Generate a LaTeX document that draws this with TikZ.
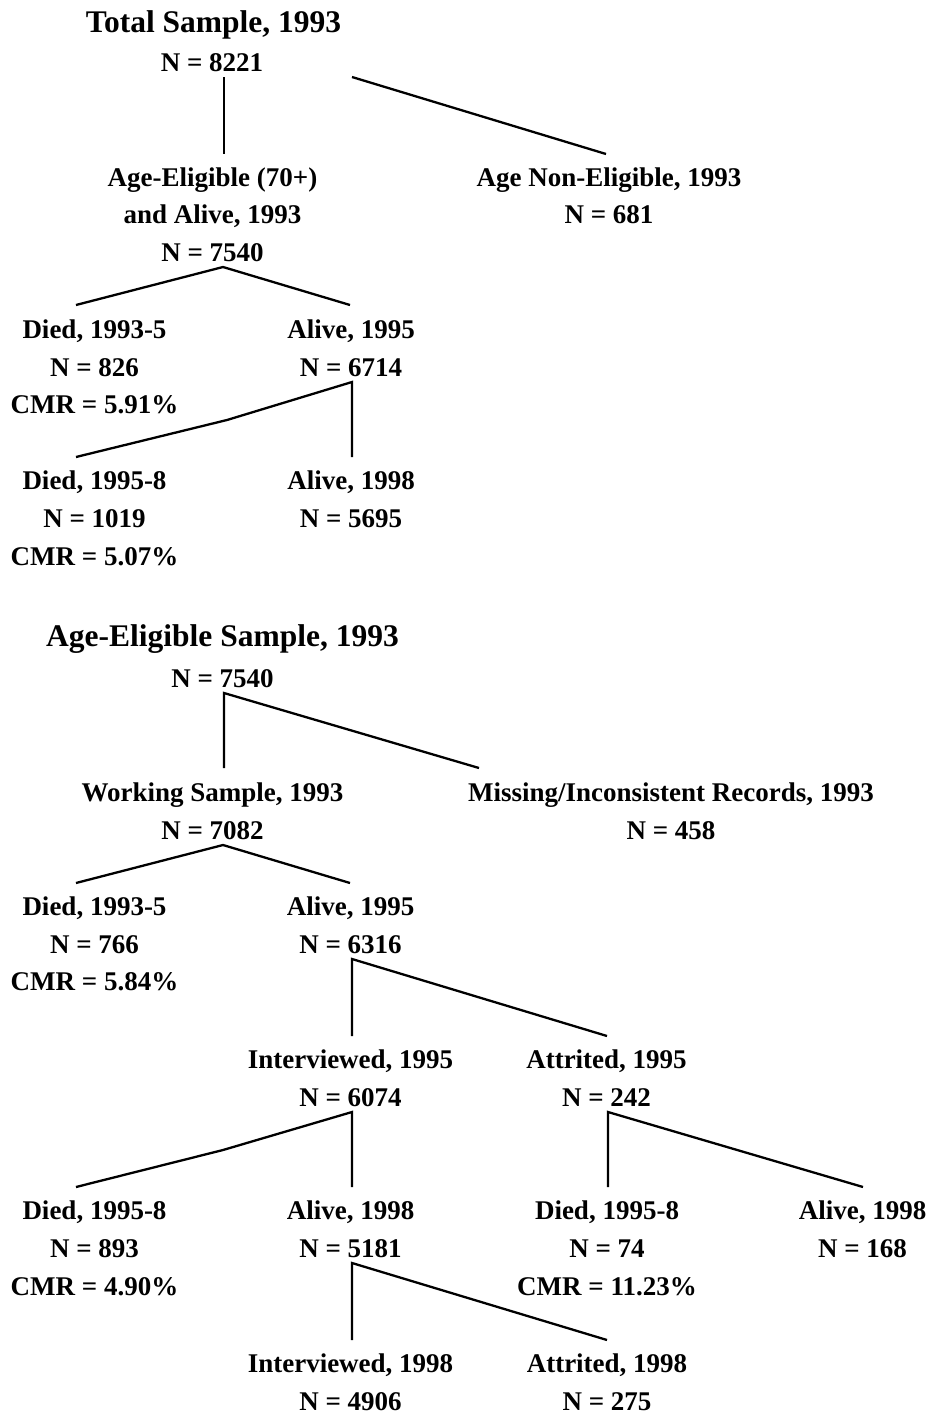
\documentclass[tikz,border=0pt]{standalone}
\usepackage{fontspec}
\setmainfont{Liberation Serif}
\begin{document}
\begin{tikzpicture}[x=1pt,y=-1pt,
  lbl/.style={anchor=base, inner sep=0pt, font=\fontsize{27}{27}\selectfont\bfseries},
  ttl/.style={anchor=base, inner sep=0pt, font=\fontsize{31.5}{31.5}\selectfont\bfseries},
  conn/.style={line width=2.3pt, line join=miter}]
\useasboundingbox (0,0) rectangle (930,1414);

% ---------- Top tree ----------
\node[ttl] (title1) at (213.5,32) {Total Sample, 1993};
\node[lbl] (n8221) at (212,71) {N = 8221};
\node[lbl] (ae1) at (212.5,186) {Age-Eligible (70+)};
\node[lbl] (ae2) at (212.5,223) {and Alive, 1993};
\node[lbl] (ae3) at (212.5,261) {N = 7540};
\node[lbl] (ane1) at (609,186) {Age Non-Eligible, 1993};
\node[lbl] (ane2) at (609,223) {N = 681};
\node[lbl] (d1a) at (94.5,338) {Died, 1993-5};
\node[lbl] (d1b) at (94.5,376) {N = 826};
\node[lbl] (d1c) at (94.5,413) {CMR = 5.91\%};
\node[lbl] (a1a) at (351,338) {Alive, 1995};
\node[lbl] (a1b) at (351,376) {N = 6714};
\node[lbl] (d2a) at (94.5,489) {Died, 1995-8};
\node[lbl] (d2b) at (94.5,527) {N = 1019};
\node[lbl] (d2c) at (94.5,565) {CMR = 5.07\%};
\node[lbl] (a2a) at (351,489) {Alive, 1998};
\node[lbl] (a2b) at (351,527) {N = 5695};

\coordinate (t1v) at (224,77);
\coordinate (t1d) at (352,77);
\coordinate (t1ae) at (224,154);
\coordinate (t1ane) at (606,154);
\coordinate (t2) at (223,267);
\coordinate (t2d) at (76,305);
\coordinate (t2a) at (350,305);
\coordinate (t3) at (352,382);
\coordinate (t3k) at (227,420);
\coordinate (t3d) at (76,457);
\coordinate (t3a) at (352,457);

\draw[conn] (t1v) -- (t1ae);
\draw[conn] (t1d) -- (t1ane);
\draw[conn] (t2d) -- (t2) -- (t2a);
\draw[conn] (t3d) -- (t3k) -- (t3) -- (t3a);

% ---------- Bottom tree ----------
\node[ttl] (title2) at (222.5,646) {Age-Eligible Sample, 1993};
\node[lbl] (n7540b) at (222.5,687) {N = 7540};
\node[lbl] (ws1) at (212.5,801) {Working Sample, 1993};
\node[lbl] (ws2) at (212.5,839) {N = 7082};
\node[lbl] (mi1) at (671,801) {Missing/Inconsistent Records, 1993};
\node[lbl] (mi2) at (671,839) {N = 458};
\node[lbl] (d3a) at (94.5,915) {Died, 1993-5};
\node[lbl] (d3b) at (94.5,953) {N = 766};
\node[lbl] (d3c) at (94.5,990) {CMR = 5.84\%};
\node[lbl] (a3a) at (350.5,915) {Alive, 1995};
\node[lbl] (a3b) at (350.5,953) {N = 6316};
\node[lbl] (iv1) at (350.5,1068) {Interviewed, 1995};
\node[lbl] (iv2) at (350.5,1106) {N = 6074};
\node[lbl] (at1) at (606.5,1068) {Attrited, 1995};
\node[lbl] (at2) at (606.5,1106) {N = 242};
\node[lbl] (d4a) at (94.5,1219) {Died, 1995-8};
\node[lbl] (d4b) at (94.5,1257) {N = 893};
\node[lbl] (d4c) at (94.5,1295) {CMR = 4.90\%};
\node[lbl] (a4a) at (350.5,1219) {Alive, 1998};
\node[lbl] (a4b) at (350.5,1257) {N = 5181};
\node[lbl] (d5a) at (607,1219) {Died, 1995-8};
\node[lbl] (d5b) at (607,1257) {N = 74};
\node[lbl] (d5c) at (607,1295) {CMR = 11.23\%};
\node[lbl] (a5a) at (862.5,1219) {Alive, 1998};
\node[lbl] (a5b) at (862.5,1257) {N = 168};
\node[lbl] (iv3) at (350.5,1372) {Interviewed, 1998};
\node[lbl] (iv4) at (350.5,1410) {N = 4906};
\node[lbl] (at3) at (607,1372) {Attrited, 1998};
\node[lbl] (at4) at (607,1410) {N = 275};

\coordinate (b1) at (224,693);
\coordinate (b1w) at (224,768);
\coordinate (b1m) at (479,768);
\coordinate (b2) at (223,845);
\coordinate (b2d) at (76,883);
\coordinate (b2a) at (350,883);
\coordinate (b3) at (352,959);
\coordinate (b3i) at (352,1036);
\coordinate (b3t) at (607,1036);
\coordinate (b4) at (352,1112);
\coordinate (b4k) at (223,1150);
\coordinate (b4d) at (76,1187);
\coordinate (b4a) at (352,1187);
\coordinate (b5) at (608,1112);
\coordinate (b5d) at (608,1187);
\coordinate (b5a) at (863,1187);
\coordinate (b6) at (352,1263);
\coordinate (b6i) at (352,1340);
\coordinate (b6t) at (607,1340);

\draw[conn] (b1w) -- (b1) -- (b1m);
\draw[conn] (b2d) -- (b2) -- (b2a);
\draw[conn] (b3i) -- (b3) -- (b3t);
\draw[conn] (b4d) -- (b4k) -- (b4) -- (b4a);
\draw[conn] (b5d) -- (b5) -- (b5a);
\draw[conn] (b6i) -- (b6) -- (b6t);
\end{tikzpicture}
\end{document}
